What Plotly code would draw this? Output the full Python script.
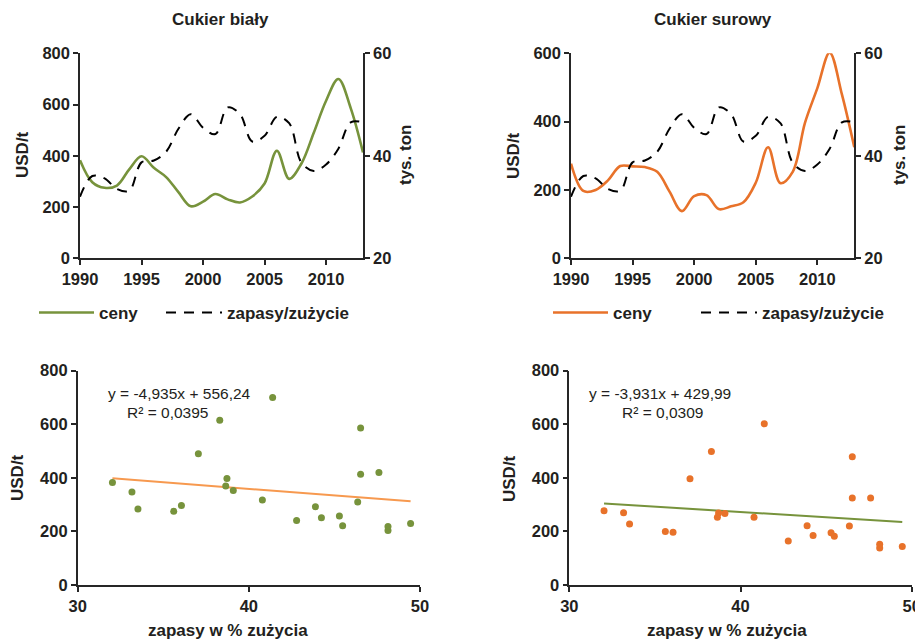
import plotly.graph_objects as go

# ---------------- data ----------------
years = list(range(1990, 2014))
stocks_use = [32.03, 36.06, 35.61, 33.52, 33.17, 38.72, 39.09, 40.79, 45.29, 48.13,
              45.48, 44.24, 49.45, 48.13, 42.79, 43.89, 47.60, 46.36, 38.65, 37.05,
              38.30, 41.39, 46.53, 46.53]
white_price = [383, 297, 275, 284, 347, 398, 353, 317, 258, 203,
               221, 251, 230, 218, 241, 292, 420, 310, 370, 490,
               615, 700, 586, 413]
raw_price = [277, 197, 200, 228, 270, 269, 267, 253, 195, 138,
             182, 185, 144, 152, 164, 221, 325, 220, 253, 397,
             498, 602, 479, 325]
white_trend = {"slope": -4.935, "intercept": 556.24}
raw_trend = {"slope": -3.931, "intercept": 429.99}
titles = ["Cukier biały", "Cukier surowy"]
eq_white = ["y = -4,935x + 556,24", "R² = 0,0395"]
eq_raw = ["y = -3,931x + 429,99", "R² = 0,0309"]
year_ticks = [1990, 1995, 2000, 2005, 2010]

GREEN = "#77933C"
ORANGE = "#E8722A"
ORANGE_T = "#F7994F"
TXT = "#231F20"
AX = "#262626"
FONT = "Liberation Sans, Arial, sans-serif"
BOLD = 16.5
LAB = 17

# The page body has an 8px margin: the figure starts at (8, 8) in the window.
OFF = 8
W, H = 923 - OFF, 641 - OFF
def px(x):
    return (x - OFF) / W
def py(y):
    return 1 - (y - OFF) / H

x_lo, x_hi = min(stocks_use), max(stocks_use)
DASH = "10px,8px"

fig = go.Figure()
fig.add_trace(go.Scatter(x=years, y=white_price, mode="lines", name="ceny",
                         line=dict(color=GREEN, width=2.6, shape="spline", smoothing=1),
                         xaxis="x", yaxis="y", legend="legend"))
fig.add_trace(go.Scatter(x=years, y=stocks_use, mode="lines", name="zapasy/zużycie",
                         line=dict(color="black", width=2, dash=DASH, shape="spline", smoothing=1),
                         xaxis="x", yaxis="y2", legend="legend2"))
fig.add_trace(go.Scatter(x=years, y=raw_price, mode="lines", name="ceny",
                         line=dict(color=ORANGE, width=2.6, shape="spline", smoothing=1),
                         xaxis="x2", yaxis="y3", legend="legend3"))
fig.add_trace(go.Scatter(x=years, y=stocks_use, mode="lines", name="zapasy/zużycie",
                         line=dict(color="black", width=2, dash=DASH, shape="spline", smoothing=1),
                         xaxis="x2", yaxis="y4", legend="legend4"))
fig.add_trace(go.Scatter(x=[x_lo, x_hi],
                         y=[white_trend["slope"] * v + white_trend["intercept"] for v in (x_lo, x_hi)],
                         mode="lines", line=dict(color=ORANGE_T, width=2), showlegend=False,
                         xaxis="x3", yaxis="y5"))
fig.add_trace(go.Scatter(x=stocks_use, y=white_price, mode="markers",
                         marker=dict(color=GREEN, size=7), showlegend=False,
                         xaxis="x3", yaxis="y5"))
fig.add_trace(go.Scatter(x=[x_lo, x_hi],
                         y=[raw_trend["slope"] * v + raw_trend["intercept"] for v in (x_lo, x_hi)],
                         mode="lines", line=dict(color=GREEN, width=2), showlegend=False,
                         xaxis="x4", yaxis="y6"))
fig.add_trace(go.Scatter(x=stocks_use, y=raw_price, mode="markers",
                         marker=dict(color=ORANGE, size=7), showlegend=False,
                         xaxis="x4", yaxis="y6"))

tickfont = dict(family=FONT, size=BOLD, color=TXT, weight="bold")
base = dict(showline=True, linecolor=AX, linewidth=1.5, ticks="outside", ticklen=5,
            tickcolor=AX, tickwidth=1.5, showgrid=False, zeroline=False, tickfont=tickfont,
            fixedrange=True, automargin=False)

top_y = [py(258.3), py(53.3)]
bot_y = [py(585), py(370.7)]

def leg(x, y, itemwidth):
    return dict(orientation="h", x=px(x), y=py(y), xanchor="left", yanchor="middle",
                itemwidth=itemwidth, font=dict(family=FONT, size=LAB, color=TXT, weight="bold"),
                bgcolor="rgba(0,0,0,0)", borderwidth=0)

fig.update_layout(
    template="none",
    width=W, height=H, margin=dict(l=0, r=0, t=0, b=0, autoexpand=False),
    paper_bgcolor="white", plot_bgcolor="white",
    font=dict(family=FONT, color=TXT),
    xaxis=dict(base, domain=[px(80), px(363)], range=[1990, 2013], tickvals=year_ticks, anchor="y"),
    yaxis=dict(base, domain=top_y, range=[0, 800], dtick=200, anchor="x"),
    yaxis2=dict(base, range=[20, 60], dtick=20, overlaying="y", side="right", anchor="x"),
    xaxis2=dict(base, domain=[px(571), px(854.3)], range=[1990, 2013], tickvals=year_ticks, anchor="y3"),
    yaxis3=dict(base, domain=top_y, range=[0, 600], dtick=200, anchor="x2"),
    yaxis4=dict(base, range=[20, 60], dtick=20, overlaying="y3", side="right", anchor="x2"),
    xaxis3=dict(base, domain=[px(77.7), px(420)], range=[30, 50], dtick=10, anchor="y5"),
    yaxis5=dict(base, domain=bot_y, range=[0, 800], dtick=200, anchor="x3"),
    xaxis4=dict(base, domain=[px(569.3), px(911.7)], range=[30, 50], dtick=10, anchor="y6"),
    yaxis6=dict(base, domain=bot_y, range=[0, 800], dtick=200, anchor="x4"),
    legend=leg(34, 313, 55),
    legend2=leg(161, 313, 56),
    legend3=leg(548, 313, 55),
    legend4=leg(696, 313, 56),
)

ann = []
def add_text(text, x, y, size=LAB, bold=True, angle=0, xanchor="center"):
    ann.append(dict(text=text, x=px(x), y=py(y), xref="paper", yref="paper",
                    showarrow=False, textangle=angle, xanchor=xanchor, yanchor="middle",
                    font=dict(family=FONT, size=size, color=TXT, weight="bold" if bold else "normal")))

add_text(titles[0], 220, 19)
add_text(titles[1], 713, 19)
add_text("USD/t", 22, 155, angle=-90)
add_text("tys. ton", 405, 155, angle=-90)
add_text("USD/t", 513, 155, angle=-90)
add_text("tys. ton", 899, 155, angle=-90)
add_text("USD/t", 17, 478, angle=-90)
add_text("USD/t", 509, 478, angle=-90)
add_text("zapasy w % zużycia", 228, 630)
add_text("zapasy w % zużycia", 727, 630)
add_text(eq_white[0], 106, 393, size=15.5, bold=False, xanchor="left")
add_text(eq_white[1], 125, 413, size=15.5, bold=False, xanchor="left")
add_text(eq_raw[0], 587, 393, size=15.5, bold=False, xanchor="left")
add_text(eq_raw[1], 620, 413, size=15.5, bold=False, xanchor="left")
fig.update_layout(annotations=ann)

fig.write_html("out.html")
